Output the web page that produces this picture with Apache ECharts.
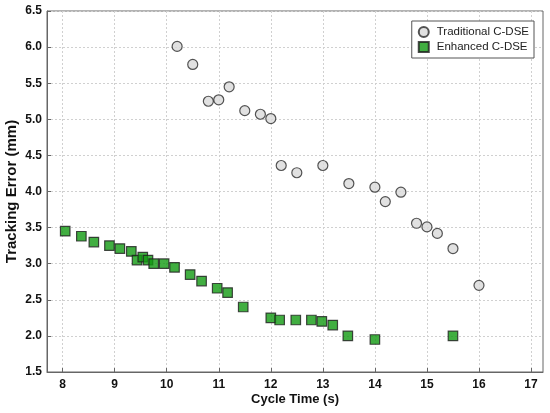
<!DOCTYPE html>
<html>
<head>
  <meta charset="UTF-8">
  <title>Tracking Error vs Cycle Time</title>
  <script src="https://cdn.jsdelivr.net/npm/echarts@6/dist/echarts.min.js"></script>
  <style>
    html, body { margin: 0; padding: 0; background: #fff; }
    #chart { width: 550px; height: 413px; }
  </style>
</head>
<body>
  <div id="chart"></div>
  <script>
    // data
    const traditionalX = [10.2, 10.5, 10.8, 11.0, 11.2, 11.5, 11.8, 12.0, 12.2, 12.5, 13.0, 13.5, 14.0, 14.2, 14.5, 14.8, 15.0, 15.2, 15.5, 16.0];
    const traditionalY = [6.01, 5.76, 5.25, 5.27, 5.45, 5.12, 5.07, 5.01, 4.36, 4.26, 4.36, 4.11, 4.06, 3.86, 3.99, 3.56, 3.51, 3.42, 3.21, 2.70];

    const enhancedX = [8.05, 8.36, 8.6, 8.9, 9.1, 9.32, 9.43, 9.54, 9.64, 9.75, 9.95, 10.15, 10.45, 10.67, 10.97, 11.17, 11.47, 12.0, 12.17, 12.48, 12.78, 12.98, 13.19, 13.48, 14.0, 15.5];
    const enhancedY = [3.45, 3.38, 3.30, 3.25, 3.21, 3.17, 3.05, 3.09, 3.05, 3.00, 3.00, 2.95, 2.85, 2.76, 2.66, 2.60, 2.40, 2.25, 2.22, 2.22, 2.22, 2.20, 2.15, 2.00, 1.95, 2.00];

    const seriesNames = ['Traditional C-DSE', 'Enhanced C-DSE'];
    const xTicks = [8, 9, 10, 11, 12, 13, 14, 15, 16, 17];

    function pairs(xs, ys) {
      return xs.map((x, i) => [x, ys[i]]);
    }

    const font = 'Arial, "Liberation Sans", sans-serif';
    const chart = echarts.init(document.getElementById('chart'));

    const option = {
      animation: false,
      textStyle: { fontFamily: font },
      grid: {
        left: 47, right: 7, top: 11, bottom: 41,
        containLabel: false, outerBoundsMode: 'none',
        show: true, borderColor: '#666', borderWidth: 1
      },
      legend: {
        data: seriesNames,
        orient: 'vertical',
        right: 16,
        top: 21,
        itemGap: 3,
        itemWidth: 10,
        itemHeight: 10,
        padding: [5, 5, 5, 6],
        borderColor: '#555',
        borderWidth: 1,
        backgroundColor: '#fff',
        textStyle: { fontFamily: font, fontSize: 11.5, color: '#222', padding: [0, 0, 0, 3] }
      },
      xAxis: {
        type: 'value',
        min: 7.7,
        max: 17.23,
        interval: 1,
        name: 'Cycle Time (s)',
        nameLocation: 'middle',
        nameGap: 21,
        nameMoveOverlap: false,
        nameTextStyle: { fontFamily: font, fontWeight: 'bold', fontSize: 13, color: '#111' },
        axisLine: { show: true, lineStyle: { color: '#666' } },
        axisTick: { show: true, inside: true, length: 4, lineStyle: { color: '#666' }, customValues: xTicks },
        axisLabel: {
          fontFamily: font, fontWeight: 'bold', fontSize: 12, color: '#111', margin: 7,
          customValues: xTicks,
          formatter: v => String(v)
        },
        splitLine: { show: true, lineStyle: { color: '#d0d0d0', type: [2, 2] } }
      },
      yAxis: {
        type: 'value',
        min: 1.5,
        max: 6.5,
        interval: 0.5,
        name: 'Tracking Error (mm)',
        nameLocation: 'middle',
        nameGap: 28,
        nameMoveOverlap: false,
        nameTextStyle: { fontFamily: font, fontWeight: 'bold', fontSize: 15, color: '#111' },
        axisLine: { show: true, lineStyle: { color: '#666' } },
        axisTick: { show: true, inside: true, length: 4, lineStyle: { color: '#666' } },
        axisLabel: {
          fontFamily: font, fontWeight: 'bold', fontSize: 12, color: '#111', margin: 5,
          formatter: v => v.toFixed(1)
        },
        splitLine: { show: true, lineStyle: { color: '#d0d0d0', type: [2, 2] } }
      },
      series: [
        {
          name: seriesNames[0],
          type: 'scatter',
          symbol: 'circle',
          symbolSize: 10,
          itemStyle: { color: '#d9d9d9', borderColor: '#2a2a2a', borderWidth: 1.2 },
          data: pairs(traditionalX, traditionalY)
        },
        {
          name: seriesNames[1],
          type: 'scatter',
          symbol: 'rect',
          symbolSize: 9.5,
          itemStyle: { color: '#129a12', borderColor: '#1e1e1e', borderWidth: 1.2 },
          data: pairs(enhancedX, enhancedY)
        }
      ]
    };

    chart.setOption(option);
  </script>
</body>
</html>
